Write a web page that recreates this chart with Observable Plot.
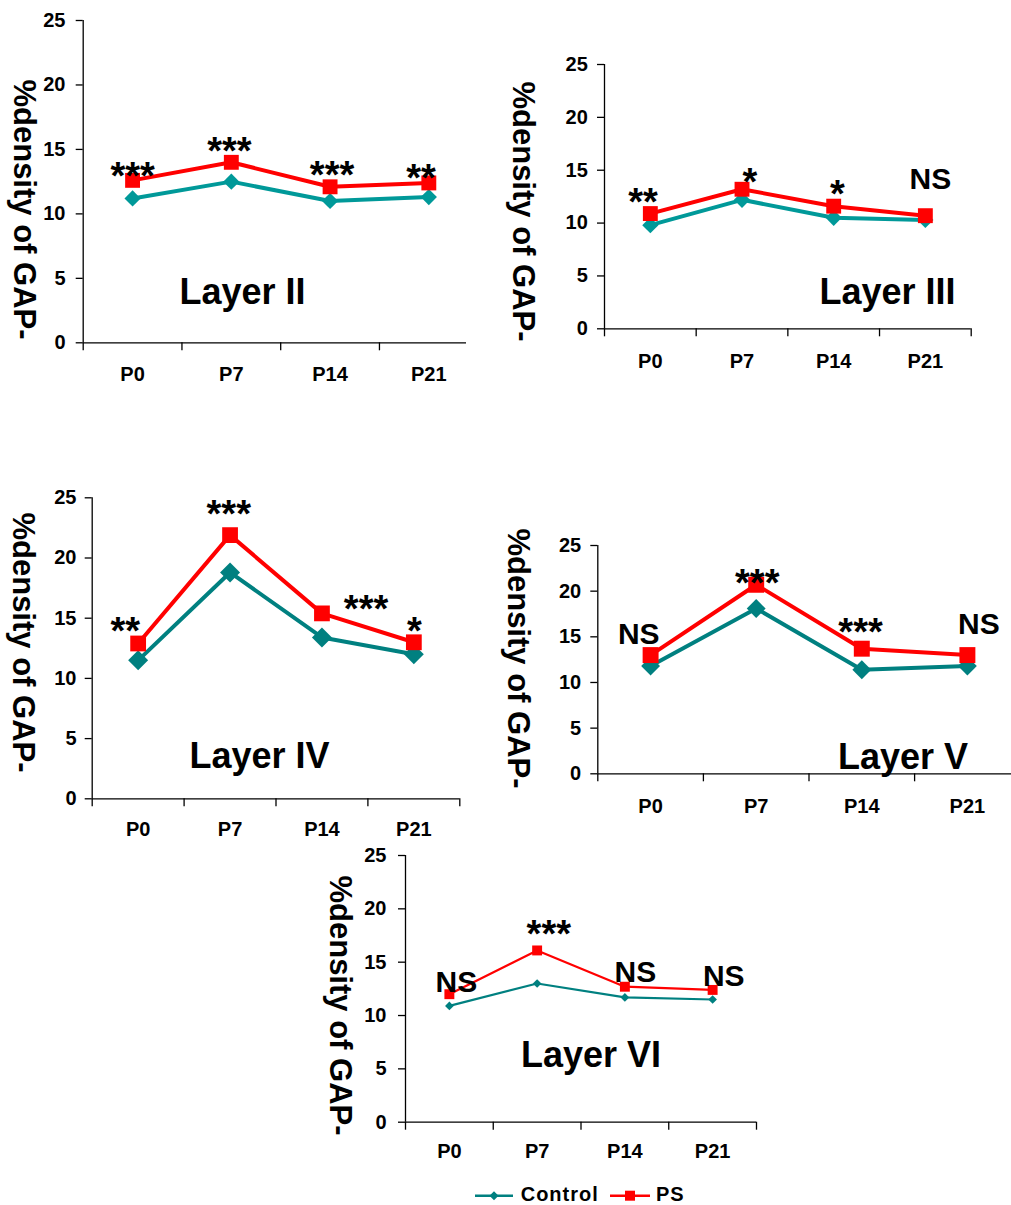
<!DOCTYPE html>
<html><head><meta charset="utf-8">
<script src="https://cdn.jsdelivr.net/npm/d3@7"></script>
<script src="https://cdn.jsdelivr.net/npm/@observablehq/plot@0.6"></script>
<style>
body{margin:0;background:#fff;}
#root{position:relative;width:1011px;height:1205px;overflow:hidden;background:#fff;font-family:"Liberation Sans",Arial,sans-serif;}
.panel{position:absolute;overflow:hidden;}
</style></head><body><div id="root"></div>
<script>
const categories = ["P0","P7","P14","P21"];
const yTicks = [0,5,10,15,20,25];
const yLabel = "%density of GAP-";
const seriesNames = ["Control","PS"];

const layerII_control = [11.2, 12.5, 11.0, 11.3];
const layerII_ps      = [12.6, 14.0, 12.1, 12.4];
const layerII_sigText = ["***","***","***","**"];
const layerII_sigX    = [0.5, 1.48, 2.52, 3.42];
const layerII_sigY    = [11.9, 13.86, 12.0, 11.8];

const layerIII_control = [9.8, 12.2, 10.5, 10.3];
const layerIII_ps      = [10.9, 13.2, 11.6, 10.7];
const layerIII_sigText = ["**","*","*","NS"];
const layerIII_sigX    = [0.42, 1.585, 2.54, 3.555];
const layerIII_sigY    = [10.8, 12.68, 11.56, 13.25];

const layerIV_control = [11.5, 18.8, 13.4, 12.0];
const layerIV_ps      = [12.9, 21.9, 15.4, 13.0];
const layerIV_sigText = ["**","***","***","*"];
const layerIV_sigX    = [0.36, 1.486, 2.98, 3.507];
const layerIV_sigY    = [12.86, 22.6, 14.68, 12.86];

const layerV_control = [11.8, 18.1, 11.4, 11.8];
const layerV_ps      = [13.0, 20.7, 13.7, 13.0];
const layerV_sigText = ["NS","***","***","NS"];
const layerV_sigX    = [0.388, 1.51, 2.488, 3.608];
const layerV_sigY    = [14.16, 19.5, 14.07, 15.33];

const layerVI_control = [10.9, 13.0, 11.7, 11.5];
const layerVI_ps      = [12.0, 16.1, 12.7, 12.4];
const layerVI_sigText = ["NS","***","NS","NS"];
const layerVI_sigX    = [0.58, 1.633, 2.62, 3.627];
const layerVI_sigY    = [12.18, 16.44, 13.12, 12.81];

const FONT = '"Liberation Sans", Arial, sans-serif';
const RED = "#ff0000";

const panels = [
  {name:"Layer II", control:layerII_control, ps:layerII_ps, sigText:layerII_sigText, sigX:layerII_sigX, sigY:layerII_sigY,
   g:{bx:0,by:0,bw:466,bh:400,L:82.7,R:477.7,T:20,B:342.3}, nameX:242, nameY:303, ylx:23, yly:209, yPad:10.7, xPad:23.7,
   teal:"#009999", lw:4, sr:8.4, dr:7.3},
  {name:"Layer III", control:layerIII_control, ps:layerIII_ps, sigText:layerIII_sigText, sigX:layerIII_sigX, sigY:layerIII_sigY,
   g:{bx:500,by:40,bw:511,bh:340,L:604,R:970.7,T:64,B:328.3}, nameX:887, nameY:303.3, ylx:522, yly:211, yPad:9.7, xPad:24.7,
   teal:"#009999", lw:4, sr:8.4, dr:7.3},
  {name:"Layer IV", control:layerIV_control, ps:layerIV_ps, sigText:layerIV_sigText, sigX:layerIV_sigX, sigY:layerIV_sigY,
   g:{bx:0,by:480,bw:480,bh:360,L:91.7,R:459.3,T:497.3,B:798.3}, nameX:259, nameY:767.3, ylx:22, yly:642, yPad:8.7, xPad:23,
   teal:"#008080", lw:4, sr:8.9, dr:9},
  {name:"Layer V", control:layerV_control, ps:layerV_ps, sigText:layerV_sigText, sigX:layerV_sigX, sigY:layerV_sigY,
   g:{bx:490,by:515,bw:521,bh:310,L:597.3,R:1019.7,T:545,B:773.3}, nameX:902.5, nameY:768.3, ylx:517, yly:658, yPad:9.6, xPad:24.7,
   teal:"#008080", lw:4, sr:9, dr:8.5},
  {name:"Layer VI", control:layerVI_control, ps:layerVI_ps, sigText:layerVI_sigText, sigX:layerVI_sigX, sigY:layerVI_sigY,
   g:{bx:300,by:845,bw:480,bh:330,L:405,R:756,T:855,B:1121.7}, nameX:590.5, nameY:1066, ylx:339, yly:1005, yPad:12, xPad:21.3,
   teal:"#008080", lw:2.2, sr:5.6, dr:3.9}
];

const root = document.getElementById("root");
const boundaries = d3.range(0, categories.length + 1);
const centers = categories.map((c, i) => i + 0.5);

for (const p of panels) {
  const {bx, by, bw, bh, L, R, T, B} = p.g;
  const width = Math.round(R - bx + 10);
  const ctrl = categories.map((c, i) => ({x: i + 0.5, v: p.control[i], s: seriesNames[0]}));
  const ps = categories.map((c, i) => ({x: i + 0.5, v: p.ps[i], s: seriesNames[1]}));
  const sig = p.sigText.map((t, i) => ({t, x: p.sigX[i], y: p.sigY[i]}));
  const chart = Plot.plot({
    width, height: bh,
    marginLeft: L - bx, marginRight: width - (R - bx), marginTop: T - by, marginBottom: by + bh - B,
    x: {type: "linear", domain: [0, categories.length], axis: null, label: null},
    y: {domain: [0, 25], axis: null, label: null},
    style: {fontFamily: FONT, color: "black", background: "transparent", overflow: "visible", maxWidth: "none"},
    marks: [
      Plot.ruleY([0], {x1: 0, x2: categories.length, stroke: "black", strokeWidth: 1.3}),
      Plot.ruleX([0], {y1: 0, y2: 25, stroke: "black", strokeWidth: 1.3}),
      Plot.axisY({ticks: yTicks, tickSize: 7, tickPadding: p.yPad, fontSize: 20, fontWeight: "bold", strokeWidth: 1.3, label: null}),
      Plot.axisX({ticks: boundaries, tickSize: 8, tickFormat: () => "", strokeWidth: 1.3, label: null}),
      Plot.axisX({ticks: centers, tickSize: 0, tickPadding: p.xPad, tickFormat: d => categories[Math.floor(d)], fontSize: 20, fontWeight: "bold", label: null}),
      Plot.line(ctrl, {x: "x", y: "v", stroke: p.teal, strokeWidth: p.lw}),
      Plot.dot(ctrl, {x: "x", y: "v", symbol: "diamond2", r: p.dr, fill: p.teal}),
      Plot.line(ps, {x: "x", y: "v", stroke: RED, strokeWidth: p.lw}),
      Plot.dot(ps, {x: "x", y: "v", symbol: "square", r: p.sr, fill: RED}),
      Plot.text(sig, {x: "x", y: "y", text: "t", lineAnchor: "bottom", textAnchor: "middle",
        fontSize: d => d.t === "NS" ? 30 : 38, fontWeight: "bold", fill: "black"}),
      Plot.text([p.name], {frameAnchor: "top-left", dx: p.nameX - L, dy: p.nameY - T, lineAnchor: "bottom",
        textAnchor: "middle", fontSize: 36, fontWeight: "bold", fill: "black"}),
      Plot.text([yLabel], {frameAnchor: "left", dx: p.ylx - L, dy: p.yly - (T + B) / 2, rotate: 90,
        lineAnchor: "middle", textAnchor: "middle", fontSize: 31, fontWeight: "bold", fill: "black"})
    ]
  });
  const wrap = document.createElement("div");
  wrap.className = "panel";
  wrap.style.left = bx + "px";
  wrap.style.top = by + "px";
  wrap.style.width = bw + "px";
  wrap.style.height = bh + "px";
  wrap.appendChild(chart);
  root.appendChild(wrap);
}

// legend
const ns = "http://www.w3.org/2000/svg";
const leg = document.createElementNS(ns, "svg");
leg.setAttribute("width", 240);
leg.setAttribute("height", 22);
leg.style.position = "absolute";
leg.style.left = "470px";
leg.style.top = "1183px";
leg.innerHTML = `
  <line x1="5" y1="12.7" x2="43" y2="12.7" stroke="#008080" stroke-width="2.5"/>
  <path d="M24 8.2 L28.5 12.7 L24 17.2 L19.5 12.7 Z" fill="#008080"/>
  <text x="50.7" y="17.7" font-family='${FONT}' font-weight="bold" font-size="20" letter-spacing="1">${seriesNames[0]}</text>
  <line x1="140" y1="12.7" x2="180" y2="12.7" stroke="${RED}" stroke-width="2.5"/>
  <rect x="155" y="7.7" width="10" height="10" fill="${RED}"/>
  <text x="186" y="17.7" font-family='${FONT}' font-weight="bold" font-size="20" letter-spacing="1">${seriesNames[1]}</text>`;
root.appendChild(leg);
</script></body></html>
